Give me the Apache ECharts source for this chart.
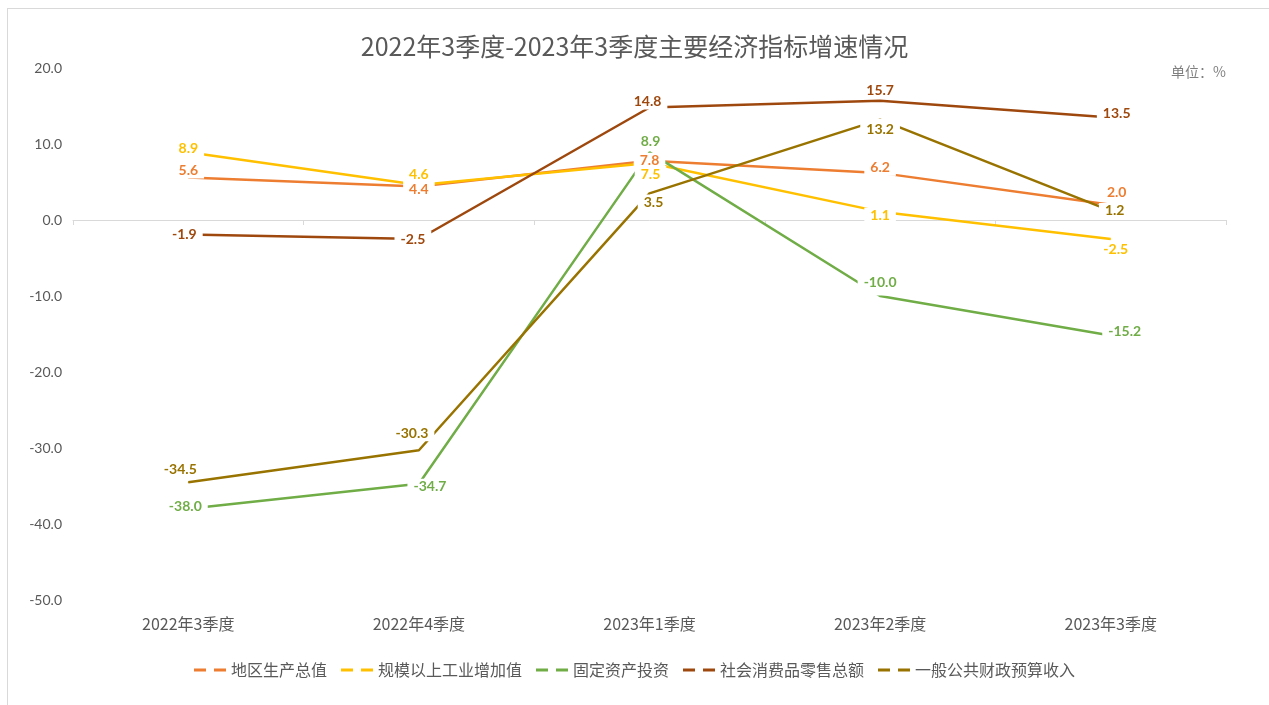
<!DOCTYPE html>
<html>
<head>
<meta charset="utf-8">
<script src="https://cdn.jsdelivr.net/npm/echarts@6/dist/echarts.min.js"></script>
<style>
  html, body { margin: 0; padding: 0; background: #fff; overflow: hidden; }
  #frame { position: absolute; left: 7px; top: 8px; width: 1270px; height: 705px; border: 1px solid #d9d9d9; box-sizing: border-box; }
  #main { position: absolute; left: 0; top: 0; width: 1269px; height: 705px; }
</style>
</head>
<body>
<div id="frame"></div>
<div id="main"></div>
<script>
// 季度
const categories = ['2022年3季度', '2022年4季度', '2023年1季度', '2023年2季度', '2023年3季度'];

// 各指标增速（%）
const gdp = [5.6, 4.4, 7.8, 6.2, 2.0];
const industry = [8.9, 4.6, 7.5, 1.1, -2.5];
const investment = [-38.0, -34.7, 8.9, -10.0, -15.2];
const retail = [-1.9, -2.5, 14.8, 15.7, 13.5];
const revenue = [-34.5, -30.3, 3.5, 13.2, 1.2];

const seriesNames = ['地区生产总值', '规模以上工业增加值', '固定资产投资', '社会消费品零售总额', '一般公共财政预算收入'];
const colors = ['#ed7d31', '#ffc000', '#70ad47', '#9e480e', '#997300'];

// 数据标签偏移（像素），避免互相遮挡
const labelOffsets = [
  [[0, -7], [0, 3], [0, 0], [0, -5], [6, -12]],
  [[0, -4], [0, -11], [1, 11], [0, 4], [5, 10]],
  [[-3, -2], [11, 3], [1, -11], [0, -14], [14, -4]],
  [[-4, 0], [-6, 0], [-2, -6], [0, -10], [6, -4]],
  [[-8, -13], [-7, -17], [4, 9], [0, 10], [4, 0]]
];

// 个别标签加大白底，盖住折点
const labelPadding = {
  '2-3': [1, 6, 12, 6],
  '4-3': [6, 6, 2, 6]
};

const seriesData = [gdp, industry, investment, retail, revenue];

const chart = echarts.init(document.getElementById('main'));

const legendIcon = 'path://M0,0h12v3h-12z M20,0h12v3h-12z';

const option = {
  animation: false,
  title: {
    text: '2022年3季度-2023年3季度主要经济指标增速情况',
    left: 'center',
    top: 29,
    textStyle: {
      fontFamily: 'Noto Sans CJK SC',
      fontSize: 25,
      fontWeight: 'normal',
      color: '#595959'
    }
  },
  graphic: [{
    type: 'text',
    right: 43,
    top: 65,
    style: {
      text: '单位：%',
      fontFamily: 'Noto Sans CJK SC',
      fontSize: 14,
      fill: '#7f7f7f'
    }
  }],
  legend: {
    bottom: 22,
    left: 'center',
    itemWidth: 32,
    itemHeight: 3,
    itemGap: 14,
    textStyle: {
      fontFamily: 'Noto Sans CJK SC',
      fontSize: 16,
      color: '#595959'
    },
    data: seriesNames.map((name) => ({ name: name, icon: legendIcon }))
  },
  grid: {
    left: 73,
    right: 43,
    top: 68,
    bottom: 105
  },
  xAxis: [
    {
      type: 'category',
      data: categories,
      position: 'bottom',
      axisLine: { show: false, onZero: false },
      axisTick: { show: false },
      axisLabel: {
        margin: 16,
        fontFamily: 'Noto Sans CJK SC',
        fontSize: 16,
        color: '#595959'
      }
    },
    {
      type: 'category',
      data: categories,
      position: 'bottom',
      axisLine: { show: true, onZero: true, lineStyle: { color: '#d9d9d9', width: 1 } },
      axisTick: { show: true, length: 5, lineStyle: { color: '#d9d9d9' } },
      axisLabel: { show: false }
    }
  ],
  yAxis: {
    type: 'value',
    min: -50,
    max: 20,
    interval: 10,
    axisLine: { show: false },
    axisTick: { show: false },
    splitLine: { show: false },
    axisLabel: {
      margin: 11,
      fontFamily: 'Lato',
      fontSize: 14,
      color: '#595959',
      formatter: (v) => v.toFixed(1)
    }
  },
  series: seriesData.map((values, s) => ({
    name: seriesNames[s],
    type: 'line',
    xAxisIndex: 0,
    symbol: 'circle',
    symbolSize: 1,
    lineStyle: { color: colors[s], width: 2.5 },
    itemStyle: { color: colors[s] },
    label: {
      show: true,
      position: 'inside',
      fontFamily: 'Lato',
      fontSize: 14,
      fontWeight: 'bold',
      color: colors[s],
      backgroundColor: '#fff',
      padding: [1, 6],
      formatter: (p) => p.value.toFixed(1)
    },
    data: values.map((v, i) => {
      const item = { value: v, label: { offset: labelOffsets[s][i] } };
      const pad = labelPadding[s + '-' + i];
      if (pad) {
        item.label.padding = pad;
      }
      return item;
    })
  }))
};

chart.setOption(option);
</script>
</body>
</html>
